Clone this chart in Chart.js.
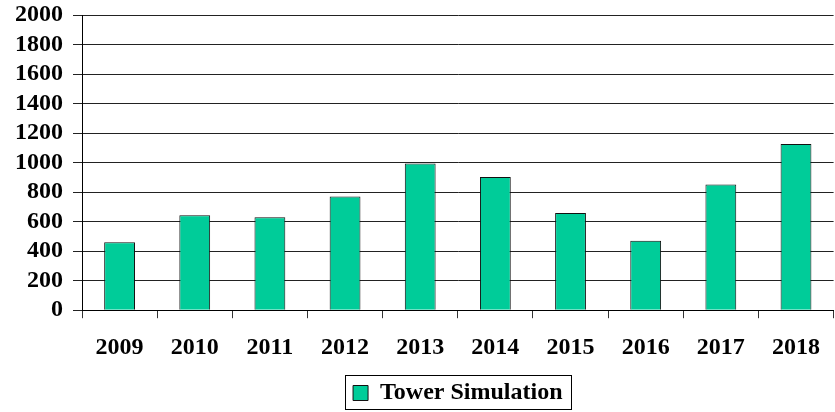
<!DOCTYPE html>
<html>
<head>
<meta charset="utf-8">
<script src="https://cdn.jsdelivr.net/npm/chart.js@4"></script>
<style>
  body { margin: 0; background: #fff; }
  #wrap { width: 835px; height: 412px; position: relative; }
</style>
</head>
<body>
<div id="wrap"><canvas id="towerChart"></canvas></div>
<script>
// chart data
const years = ['2009', '2010', '2011', '2012', '2013', '2014', '2015', '2016', '2017', '2018'];
const towerValues = [461, 643, 629, 770, 994, 903, 659, 471, 852, 1126];
const seriesName = 'Tower Simulation';

const serif = "'Liberation Serif', 'Times New Roman', serif";

// draws a thin frame around the legend, like the original
const legendFrame = {
    id: 'legendFrame',
    afterDraw(chart) {
        const lg = chart.legend;
        if (!lg || !lg.legendHitBoxes || !lg.legendHitBoxes.length) return;
        const hb = lg.legendHitBoxes[0];
        const ctx = chart.ctx;
        ctx.save();
        ctx.strokeStyle = '#000';
        ctx.lineWidth = 1;
        ctx.strokeRect(Math.round(hb.left) - 7.5, Math.round(hb.top) - 5.5,
            Math.round(hb.width) + 17, Math.round(hb.height) + 10);
        ctx.restore();
    }
};

const ctx = document.getElementById('towerChart').getContext('2d');
const myChart = new Chart(ctx, {
    type: 'bar',
    data: {
        labels: years,
        datasets: [{
            label: seriesName,
            data: towerValues,
            backgroundColor: '#00CC99',
            borderColor: '#111',
            borderWidth: 1,
            barPercentage: 0.41,
            categoryPercentage: 1.0
        }]
    },
    options: {
        responsive: true,
        maintainAspectRatio: false,
        animation: false,
        layout: {
            padding: { top: 0, right: 0, bottom: -3, left: 5 }
        },
        plugins: {
            tooltip: { enabled: false },
            legend: {
                position: 'bottom',
                fullSize: false,  // centre it under the plot area
                labels: {
                    color: '#000',
                    font: { family: serif, size: 24, weight: 'bold' },
                    boxWidth: 15,
                    boxHeight: 15,
                    padding: 4
                }
            }
        },
        scales: {
            y: {
                min: 0,
                max: 2000,
                afterFit: (scale) => { scale.paddingTop = 15; },
                ticks: {
                    stepSize: 200,
                    autoSkip: false,
                    color: '#000',
                    padding: 10,
                    font: { family: serif, size: 24, weight: 'bold' },
                    callback: (v) => String(v)
                },
                grid: {
                    color: '#222',
                    lineWidth: 1,
                    tickLength: 9
                },
                border: { color: '#000', width: 1 }
            },
            x: {
                ticks: {
                    autoSkip: false,
                    maxRotation: 0,
                    color: '#000',
                    padding: 15,
                    font: { family: serif, size: 24, weight: 'bold' }
                },
                grid: {
                    drawOnChartArea: false,
                    color: '#333',
                    tickLength: 8
                },
                border: { color: '#000', width: 1 }
            }
        }
    },
    plugins: [legendFrame]
});
</script>
</body>
</html>
